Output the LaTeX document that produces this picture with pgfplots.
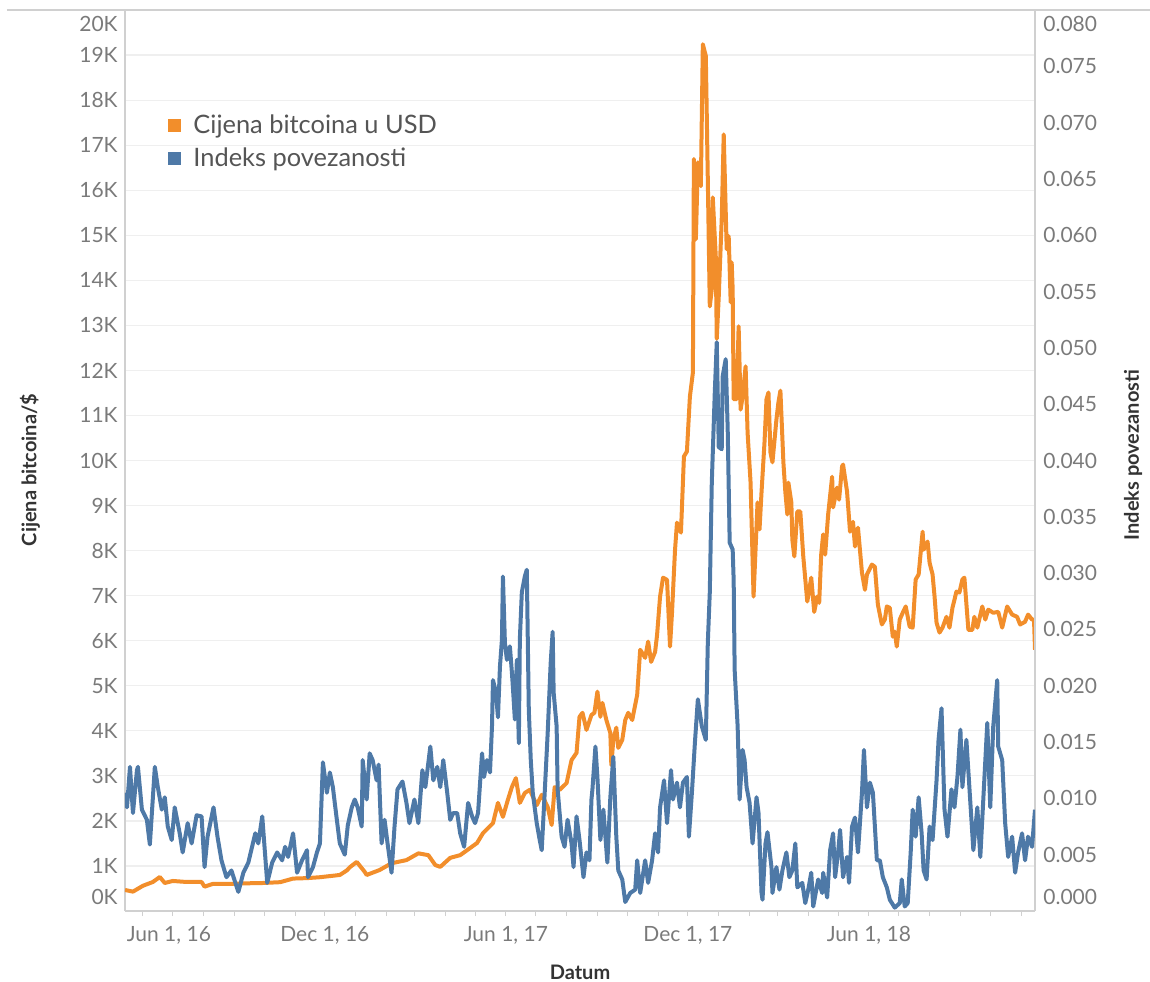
\documentclass[border=0pt]{standalone}
\usepackage{pgfplots}
\pgfplotsset{compat=1.18}
\usepackage{pgfplotstable}
\usepackage{fontspec}
\setmainfont{Lato}
\definecolor{corange}{HTML}{F28E2B}
\definecolor{cblue}{HTML}{4E79A7}
\definecolor{cgrid}{HTML}{EFEFEF}
\definecolor{caxis}{HTML}{D0D0D0}
\definecolor{ctick}{HTML}{7A7A7A}
\definecolor{ctitle}{HTML}{333333}
\definecolor{clegend}{HTML}{555555}

\pgfplotstableread{
day price
-18 467
-10 430
0 560
10 644
17 755
22 622
30 667
44 644
59 644
62 540
70 600
84 600
105 615
121 622
138 640
151 720
165 730
178 750
198 800
205 900
208 970
215 1090
223 870
225 800
238 910
250 1060
265 1130
277 1280
287 1240
294 1020
299 980
309 1180
319 1240
326 1350
336 1510
342 1730
352 1950
357 2400
362 2090
367 2470
371 2750
375 2950
379 2400
384 2620
389 2690
396 2350
401 2580
407 2310
411 1910
414 2750
419 2690
426 2840
431 3350
436 3510
439 4310
442 4400
446 4020
451 4350
454 4400
457 4870
460 4310
462 4620
466 4240
470 3950
471 3240
473 3800
476 4070
478 3620
482 3800
485 4240
488 4400
492 4240
497 4800
500 5800
505 5620
508 5980
511 5530
515 5750
517 6130
520 6980
523 7400
527 7350
530 5870
532 6620
535 8000
537 8620
541 8400
544 10090
547 10200
550 11420
553 11950
554 16690
556 14910
558 16620
561 16090
563 19240
566 18980
568 16240
570 13420
572 13800
573 15840
576 14530
577 12700
579 13640
582 15360
584 17240
587 14690
589 14980
591 13510
592 14400
593 13800
594 11360
597 11360
599 12980
601 11130
603 11420
606 12090
608 10620
611 9510
614 6980
616 8020
618 9070
620 8470
622 9290
625 10400
627 11360
629 11510
631 10180
633 9960
637 10910
639 11290
641 11550
644 9960
646 9290
648 8800
649 9510
652 9070
653 8240
655 7870
658 8870
661 8870
664 7870
668 6870
672 7400
675 6640
678 6980
680 6840
682 7910
684 8360
686 7910
689 8800
693 9640
694 8960
698 9400
700 9130
703 9870
704 9910
708 9310
711 8420
714 8640
716 8090
719 8510
723 7510
726 7130
728 7470
733 7690
736 7640
739 6800
743 6360
746 6470
748 6760
751 6730
754 6090
756 6200
758 5870
761 6470
764 6620
767 6760
771 6310
774 6290
777 7360
780 7470
784 8420
785 8020
789 8200
791 7730
794 7470
796 6980
798 6400
801 6180
804 6290
808 6530
811 6290
814 6730
818 7090
821 7070
824 7360
826 7400
830 6240
834 6240
836 6530
839 6290
844 6760
847 6470
850 6690
855 6620
860 6640
864 6290
869 6760
874 6580
879 6530
882 6360
887 6420
890 6580
894 6470
896 6470
897 5800
}\btc

\pgfplotstableread{
day idx
-18 0.0105
-16 0.0092
-13 0.0128
-10 0.0087
-6 0.0125
-5 0.0128
-1 0.0090
4 0.0081
7 0.0059
12 0.0128
15 0.0110
19 0.0090
22 0.0101
25 0.0075
29 0.0063
32 0.0092
37 0.0069
40 0.0052
45 0.0078
49 0.0060
54 0.0085
59 0.0084
62 0.0039
65 0.0066
71 0.0092
75 0.0066
79 0.0045
84 0.0030
89 0.0036
93 0.0025
96 0.0017
101 0.0034
106 0.0043
113 0.0069
116 0.0060
120 0.0084
125 0.0025
130 0.0043
135 0.0052
140 0.0045
143 0.0057
146 0.0048
151 0.0069
155 0.0034
160 0.0045
165 0.0054
166 0.0030
171 0.0039
175 0.0052
178 0.0060
181 0.0132
185 0.0105
188 0.0123
191 0.0110
195 0.0081
198 0.0060
203 0.0050
206 0.0076
210 0.0092
213 0.0099
216 0.0092
220 0.0075
221 0.0134
225 0.0099
228 0.0140
231 0.0134
235 0.0116
237 0.0130
240 0.0060
243 0.0081
246 0.0060
250 0.0034
253 0.0075
256 0.0108
261 0.0115
265 0.0096
268 0.0078
273 0.0099
277 0.0078
281 0.0125
284 0.0110
289 0.0146
292 0.0116
296 0.0128
299 0.0110
302 0.0134
306 0.0105
309 0.0081
312 0.0087
316 0.0087
319 0.0069
323 0.0057
327 0.0096
331 0.0084
334 0.0078
337 0.0087
341 0.0140
343 0.0119
346 0.0134
349 0.0123
351 0.0164
352 0.0205
355 0.0194
357 0.0172
359 0.0217
361 0.0241
362 0.0297
364 0.0238
366 0.0223
369 0.0235
371 0.0212
372 0.0199
374 0.0170
376 0.0223
378 0.0149
379 0.0241
381 0.0283
384 0.0297
386 0.0303
388 0.0179
390 0.0134
392 0.0105
396 0.0078
399 0.0063
401 0.0054
404 0.0105
407 0.0158
410 0.0220
412 0.0248
413 0.0194
416 0.0164
417 0.0108
421 0.0066
424 0.0057
427 0.0081
431 0.0060
433 0.0039
436 0.0084
439 0.0063
443 0.0030
446 0.0052
449 0.0045
451 0.0099
452 0.0108
455 0.0146
457 0.0119
460 0.0063
463 0.0090
467 0.0043
470 0.0101
473 0.0137
476 0.0066
478 0.0036
482 0.0028
485 0.0008
490 0.0016
495 0.0019
497 0.0045
500 0.0016
505 0.0045
508 0.0025
512 0.0045
515 0.0069
518 0.0052
520 0.0092
524 0.0116
527 0.0078
531 0.0125
533 0.0099
537 0.0114
540 0.0092
543 0.0114
547 0.0119
549 0.0066
552 0.0105
555 0.0149
558 0.0188
562 0.0164
566 0.0152
568 0.0238
570 0.0283
572 0.0380
575 0.0460
577 0.0505
579 0.0412
582 0.0410
583 0.0475
586 0.0490
588 0.0428
590 0.0327
593 0.0321
594 0.0294
595 0.0214
598 0.0164
600 0.0099
603 0.0143
605 0.0134
607 0.0110
610 0.0096
613 0.0060
617 0.0101
619 0.0087
622 0.0016
623 0.0010
626 0.0060
628 0.0070
632 0.0039
633 0.0016
637 0.0039
640 0.0019
643 0.0036
647 0.0052
650 0.0030
653 0.0036
656 0.0060
658 0.0021
663 0.0025
666 0.0007
669 0.0019
672 0.0034
674 0.0004
679 0.0028
683 0.0016
684 0.0034
688 0.0012
691 0.0054
694 0.0069
696 0.0030
699 0.0052
701 0.0072
704 0.0030
708 0.0048
710 0.0025
713 0.0075
716 0.0083
719 0.0052
723 0.0105
725 0.0143
728 0.0092
731 0.0114
734 0.0105
736 0.0075
738 0.0045
741 0.0045
744 0.0030
748 0.0021
751 0.0010
756 0.0003
761 0.0007
763 0.0028
766 0.0004
769 0.0007
772 0.0052
774 0.0090
777 0.0066
780 0.0101
783 0.0069
785 0.0036
788 0.0028
791 0.0075
794 0.0063
798 0.0116
800 0.0152
803 0.0180
806 0.0090
809 0.0066
813 0.0108
816 0.0092
819 0.0119
822 0.0161
824 0.0110
828 0.0152
831 0.0110
835 0.0054
839 0.0092
842 0.0048
845 0.0099
849 0.0167
852 0.0092
855 0.0164
859 0.0205
860 0.0146
864 0.0134
867 0.0078
870 0.0048
874 0.0066
877 0.0034
880 0.0052
884 0.0069
887 0.0045
890 0.0066
894 0.0057
897 0.0090
}\idx

\begin{document}
\begin{tikzpicture}[x=1pt,y=1pt]
\useasboundingbox (-62.5,-35) rectangle (512.5,455.5);
\begin{axis}[
  at={(0,0)}, anchor=south west,
  scale only axis, width=455pt, height=450.5pt,
  xmin=-18, xmax=897, ymin=0, ymax=20000,
  axis x line*=bottom, axis y line*=left,
  axis line style={-, draw=caxis, line width=0.6pt},
  tick align=inside,
  xtick={0,183,365,548,730},
  xticklabels={{\hspace*{26pt}Jun 1, 16},{Dec 1, 16},{Jun 1, 17},{Dec 1, 17},{Jun 1, 18}},
  minor xtick={30,61,92,122,153,214,245,273,304,334,395,426,457,487,518,579,610,638,669,699,760,791,822,852,883},
  x tick style={draw=caxis, line width=0.5pt, yshift=-2.5pt},
  major tick length=2.5pt, minor tick length=2.5pt,
  ytick={0,1000,2000,3000,4000,5000,6000,7000,8000,9000,10000,11000,12000,13000,14000,15000,16000,17000,18000,19000,20000},
  yticklabels={{\raisebox{7pt}[\height][\depth]{0K}},1K,2K,3K,4K,5K,6K,7K,8K,9K,10K,11K,12K,13K,14K,15K,16K,17K,18K,19K,{\raisebox{-7pt}[\height][\depth]{20K}}},
  y tick style={draw=none},
  scaled y ticks=false,
  ymajorgrids, grid style={draw=cgrid, line width=0.6pt},
  tick label style={font=\fontsize{10.5}{12}\selectfont, text=ctick},
  yticklabel style={anchor=east, inner sep=0pt, xshift=-3.5pt},
  xticklabel style={anchor=base, inner sep=0pt, yshift=-15pt},
  xlabel={Datum}, ylabel={Cijena bitcoina/\$},
  every axis x label/.style={at={(axis description cs:0.5,-0.0677)}, anchor=center, font=\bfseries\fontsize{10}{12}\selectfont, text=ctitle},
  every axis y label/.style={at={(axis description cs:-0.1044,0.4895)}, rotate=90, anchor=center, font=\bfseries\fontsize{10}{12}\selectfont, text=ctitle},
  legend style={at={(axis description cs:0.0473,0.889)}, anchor=north west, draw=none, fill=none, inner sep=0pt,
    font=\fontsize{12.7}{15}\selectfont, text=clegend, row sep=2pt},
  legend cell align=left,
  legend image code/.code={\path[draw=none,fill=none] (0pt,0pt) -- (10.5pt,0pt); \fill[#1,draw=none] (0pt,-3.25pt) rectangle (6.5pt,3.25pt);},
]
\addplot[color=corange, line width=2pt, line join=round, mark=none] table[x=day,y=price] {\btc};
\addlegendentry{Cijena bitcoina u USD}
\addlegendimage{color=cblue, line width=2pt}
\addlegendentry{Indeks povezanosti}
\end{axis}
\begin{axis}[
  at={(0,0)}, anchor=south west,
  scale only axis, width=455pt, height=450.5pt,
  xmin=-18, xmax=897, ymin=0, ymax=0.08,
  axis y line*=right, axis x line=none,
  axis line style={-, draw=caxis, line width=0.6pt},
  ytick={0,0.005,0.01,0.015,0.02,0.025,0.03,0.035,0.04,0.045,0.05,0.055,0.06,0.065,0.07,0.075,0.08},
  yticklabels={{\raisebox{7pt}[\height][\depth]{0.000}},0.005,0.010,0.015,0.020,0.025,0.030,0.035,0.040,0.045,0.050,0.055,0.060,0.065,0.070,0.075,{\raisebox{-7pt}[\height][\depth]{0.080}}},
  y tick style={draw=none},
  scaled y ticks=false,
  tick label style={font=\fontsize{10.5}{12}\selectfont, text=ctick},
  yticklabel style={anchor=west, inner sep=0pt, xshift=4pt},
  ylabel={Indeks povezanosti},
  every axis y label/.style={at={(axis description cs:1.1077,0.506)}, rotate=90, anchor=center, font=\bfseries\fontsize{10}{12}\selectfont, text=ctitle},
]
\addplot[color=cblue, line width=2pt, line join=round, mark=none] table[x=day,y=idx] {\idx};
\end{axis}
\draw[caxis, line width=0.6pt] (-59,450.5) -- (512.5,450.5);
\end{tikzpicture}
\end{document}
